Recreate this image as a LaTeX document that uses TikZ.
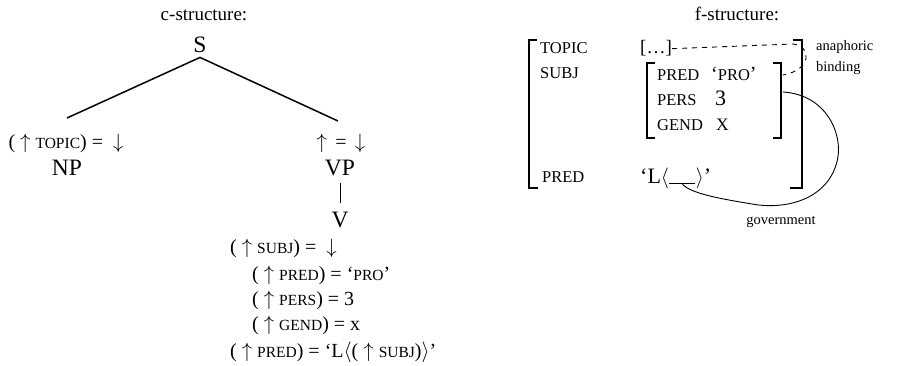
\documentclass[tikz,border=0pt]{standalone}
\usepackage{fontspec}
\setmainfont{Liberation Serif}
% small capitals made from reduced upper-case letters
\newcommand\kap[1]{{\fontsize{15.5}{18}\selectfont #1}}
\begin{document}
\begin{tikzpicture}[x=1pt,y=-1pt,
  head/.style={font=\fontsize{19}{22}\selectfont, inner sep=0, anchor=base},
  cat/.style={font=\fontsize{23.5}{26}\selectfont, inner sep=0, anchor=base},
  ann/.style={font=\fontsize{20}{22}\selectfont, inner sep=0, anchor=base},
  annl/.style={ann, anchor=base west},
  attr/.style={font=\fontsize{16.5}{18}\selectfont, inner sep=0, anchor=base west},
  val/.style={font=\fontsize{22}{24}\selectfont, inner sep=0, anchor=base west},
  note/.style={font=\fontsize{14.5}{21}\selectfont, inner sep=0, align=left},
  branch/.style={line width=1.5pt},
  bar/.style={line width=0.9pt},
  brk/.style={line width=1.3pt},
  bind/.style={line width=0.9pt, dash pattern=on 5pt off 5pt},
  gov/.style={line width=0.9pt}]
\useasboundingbox (0,0) rectangle (902,366);

% ---------------- c-structure ----------------
\node[head] (chead) at (204,21) {c-structure:};
\node[cat] (S) at (200,53) {S};
\node[ann] (npann) at (66,149) {( $\uparrow$ \kap{TOPIC}) = \ $\downarrow$};
\node[cat] (NP) at (67,176) {NP};
\node[ann] (vpann) at (341,149) {$\uparrow$ \,=\, $\downarrow$};
\node[cat] (VP) at (340,176) {VP};
\node[cat] (V) at (340,227) {V};
\coordinate (npTop) at (67,118);
\coordinate (vpTop) at (338,121);
\draw[branch] ([yshift=-4pt]S.south) -- (npTop);
\draw[branch] ([yshift=-4pt]S.south) -- (vpTop);
\draw[bar] ([yshift=-6pt]VP.south) -- ([yshift=8pt]VP.south |- V.north);

\node[annl] (e1) at (230,254) {( $\uparrow$ \kap{SUBJ}) = \ $\downarrow$};
\node[annl] (e2) at (252,280) {( $\uparrow$ \kap{PRED}) = ‘\kap{PRO}’};
\node[annl] (e3) at (252,305) {( $\uparrow$ \kap{PERS}) = 3};
\node[annl] (e4) at (252,330) {( $\uparrow$ \kap{GEND}) = x};
\node[annl] (e5) at (230,357) {( $\uparrow$ \kap{PRED}) = ‘L$\langle$( $\uparrow$ \kap{SUBJ})$\rangle$’};

% ---------------- f-structure ----------------
\node[head] (fhead) at (737,21) {f-structure:};

% outer brackets
\draw[brk] (537,40) -- (529,40) -- (529,188) -- (538,188);
\draw[brk] (793,40) -- (802,40) -- (802,188) -- (790,188);
% inner brackets
\draw[brk] (655,63) -- (647,63) -- (647,138) -- (655,138);
\draw[brk] (773,63) -- (781,63) -- (781,138) -- (773,138);

\node[attr] (topic) at (540,54) {TOPIC};
\node[attr] (subj) at (540,79) {SUBJ};
\node[attr] (pred) at (542,183) {PRED};

\node[attr, font=\fontsize{19}{20}\selectfont] (dots) at (640,54) {[\ldots]};

\node[attr] (ipred) at (657,81) {PRED};
\node[attr] (ipers) at (657,106) {PERS};
\node[attr] (igend) at (657,131) {GEND};
\node[attr, font=\fontsize{20}{20}\selectfont] (vpro) at (711,81) {‘{\fontsize{16.5}{18}\selectfont PRO}’};
\node[val] (vthree) at (715,106) {3};
\node[attr, font=\fontsize{17.5}{18}\selectfont] (vx) at (716,131) {X};

\node[val] (Lopen) at (640,184) {‘L$\langle$};
\node[inner sep=0, anchor=base west] (blank) at (Lopen.base east) {\rule{26pt}{0.7pt}};
\node[val] (Lclose) at (blank.base east) {$\rangle$’};

\node[note, anchor=west] (anaph) at (816,58) {anaphoric\\binding};
\node[note] (govlab) at (781,222) {government};

% anaphoric binding link
\coordinate (subjR) at (783,75);
\draw[bind] (dots.east) -- (793,44) .. controls (812,46) and (812,70) .. (subjR);

% government link
\coordinate (subjG) at (783,92);
\draw[gov] (subjG) .. controls (830,95) and (845,140) .. (836,165)
  .. controls (825,200) and (785,210) .. (752,204)
  .. controls (722,199) and (692,194) .. (blank.south);
\end{tikzpicture}
\end{document}
